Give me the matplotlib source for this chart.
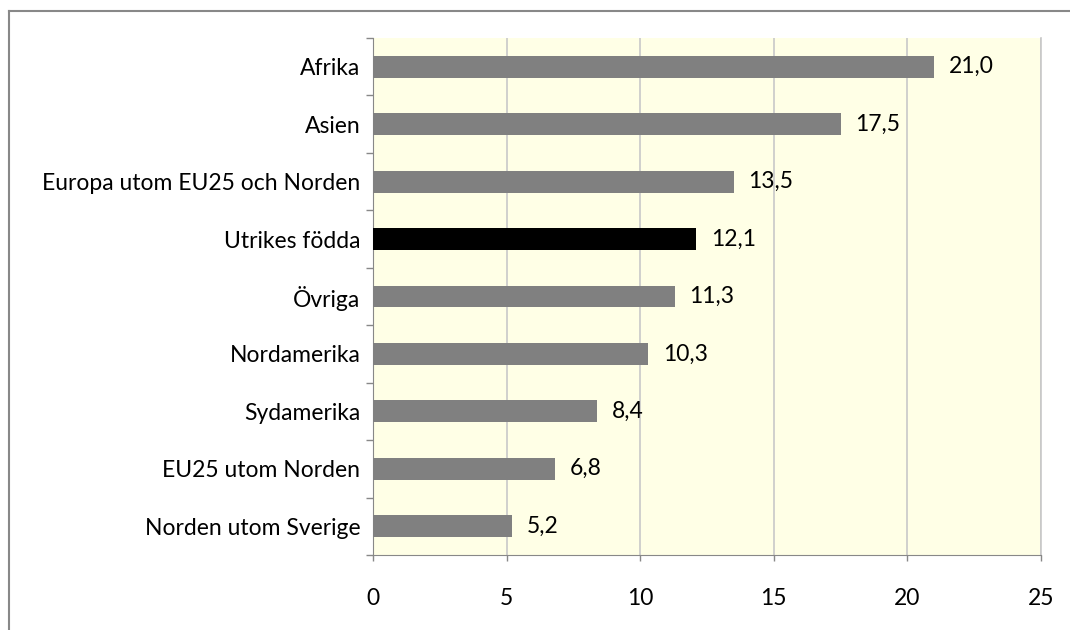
import matplotlib
matplotlib.use("Agg")
import matplotlib.pyplot as plt
from matplotlib.lines import Line2D
from matplotlib.ticker import FixedLocator

categories = ["Afrika", "Asien", "Europa utom EU25 och Norden", "Utrikes födda",
              "Övriga", "Nordamerika", "Sydamerika", "EU25 utom Norden",
              "Norden utom Sverige"]
values = [21.0, 17.5, 13.5, 12.1, 11.3, 10.3, 8.4, 6.8, 5.2]
highlight = "Utrikes födda"
xticks = [0, 5, 10, 15, 20, 25]

plt.rcParams['font.family'] = ['Lato', 'DejaVu Sans']
FS = 16.5

fig = plt.figure(figsize=(10.7, 6.3), dpi=100)
ax = fig.add_axes([373/1070, 1 - 555/630, (1041-373)/1070, (555-38)/630])
ax.set_facecolor("#FFFFE6")

n = len(categories)
ypos = list(range(n))
colors = ["#000000" if c == highlight else "#808080" for c in categories]
ax.barh(ypos, values, height=0.38, color=colors, zorder=3)
ax.set_ylim(n - 0.5, -0.5)
ax.set_xlim(0, 25)
ax.set_yticks(ypos)
ax.set_yticklabels(categories, fontsize=FS)
ax.tick_params(axis='y', which='major', length=0, pad=9)
ax.yaxis.set_minor_locator(FixedLocator([i - 0.5 for i in range(n + 1)]))
ax.tick_params(axis='y', which='minor', length=5, color="#888888", width=1)
ax.set_xticks(xticks)
ax.set_xticklabels([str(t) for t in xticks], fontsize=FS)
ax.tick_params(axis='x', length=4, color="#888888", width=1, pad=20, direction='out')
ax.grid(axis='x', color="#C8C8C8", linewidth=1.2, zorder=0)
ax.spines['top'].set_visible(False)
ax.spines['right'].set_color("#C8C8C8")
ax.spines['right'].set_linewidth(1.2)
ax.spines['left'].set_color("#888888")
ax.spines['bottom'].set_color("#888888")

for y, v in zip(ypos, values):
    ax.annotate(f"{v:.1f}".replace(".", ","), (v, y), xytext=(10.5, 0),
                textcoords="offset points", va="center", ha="left", fontsize=FS)

# outer frame (top and left visible)
fig.add_artist(Line2D([9/1070, 9/1070], [0, 1 - 11/630], transform=fig.transFigure,
                      color="#888888", linewidth=1.5))
fig.add_artist(Line2D([9/1070, 1], [1 - 11/630, 1 - 11/630], transform=fig.transFigure,
                      color="#888888", linewidth=1.5))

fig.savefig("out.png", dpi=100)
